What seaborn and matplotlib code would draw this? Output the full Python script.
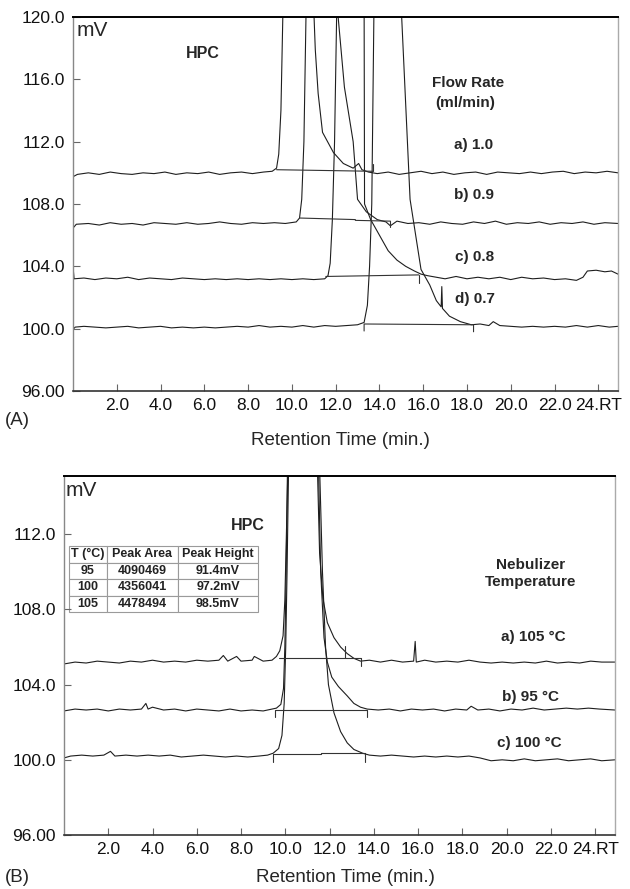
import matplotlib
matplotlib.use("Agg")
import matplotlib.pyplot as plt
import seaborn as sns
import pandas as pd

# ---------------- data ----------------
x_ticks = [2, 4, 6, 8, 10, 12, 14, 16, 18, 20, 22, 24]
x_tick_labels = ["2.0", "4.0", "6.0", "8.0", "10.0", "12.0", "14.0", "16.0",
                 "18.0", "20.0", "22.0", "24.RT"]
yA_ticks = [96, 100, 104, 108, 112, 116, 120]
yA_labels = ["96.00", "100.0", "104.0", "108.0", "112.0", "116.0", "120.0"]
yB_ticks = [96, 100, 104, 108, 112]
yB_labels = ["96.00", "100.0", "104.0", "108.0", "112.0"]

# Panel A : flow rate traces (time min, mV)
flow_a = [(0.0, 109.75), (0.2, 109.9), (0.7, 110.0), (1.2, 109.9), (1.7, 110.05), (2.2, 109.95),
          (2.7, 109.9), (3.2, 110.0), (3.7, 109.95), (4.2, 110.05), (4.7, 109.9), (5.2, 110.0),
          (5.7, 109.95), (6.2, 110.05), (6.7, 109.9), (7.2, 110.0), (7.7, 110.05), (8.2, 109.95),
          (8.7, 110.05), (9.1, 110.1),
          (9.3, 110.3), (9.4, 111.2), (9.5, 114.0), (9.6, 121.0), (10.3, 140.0), (11.0, 120.5),
          (11.07, 117.9), (11.2, 115.1), (11.4, 112.6), (11.9, 111.3), (12.35, 110.6), (12.8, 110.3),
          (13.05, 110.6), (13.2, 110.2), (13.5, 110.05),
          (13.9, 109.95), (14.4, 110.05), (14.9, 109.9), (15.4, 110.0), (15.9, 110.1), (16.4, 109.95),
          (16.9, 110.05), (17.4, 109.9), (17.9, 110.0), (18.4, 110.05), (18.9, 109.9), (19.4, 110.05),
          (19.9, 110.0), (20.4, 109.95), (20.9, 110.05), (21.4, 109.95), (21.9, 110.05), (22.4, 110.1),
          (22.9, 109.95), (23.4, 110.05), (23.9, 110.0), (24.4, 110.1), (24.9, 110.0)]
flow_b = [(0.0, 106.45), (0.15, 106.7), (0.7, 106.75), (1.2, 106.65), (1.7, 106.8), (2.2, 106.7),
          (2.7, 106.75), (3.2, 106.65), (3.7, 106.8), (4.2, 106.75), (4.7, 106.7), (5.2, 106.8),
          (5.7, 106.7), (6.2, 106.75), (6.7, 106.85), (7.2, 106.75), (7.7, 106.7), (8.2, 106.8),
          (8.7, 106.75), (9.2, 106.8), (9.7, 106.75), (10.2, 106.85),
          (10.35, 107.1), (10.45, 108.3), (10.55, 112.0), (10.65, 120.5), (11.3, 140.0),
          (12.05, 121.0), (12.4, 115.5), (12.8, 112.0), (13.0, 108.3), (13.4, 107.5),
          (13.9, 107.0), (14.3, 106.85),
          (14.5, 106.6), (14.8, 106.9), (15.3, 106.75), (15.8, 106.8), (16.3, 106.7), (16.8, 106.85),
          (17.3, 106.75), (17.8, 106.7), (18.3, 106.85), (18.8, 106.75), (19.3, 106.9), (19.8, 106.7),
          (20.3, 106.8), (20.8, 106.75), (21.3, 106.85), (21.8, 106.7), (22.3, 106.8), (22.8, 106.75),
          (23.3, 106.85), (23.8, 106.7), (24.3, 106.8), (24.9, 106.75)]
flow_c = [(0.0, 104.0), (0.05, 103.2), (0.5, 103.25), (1.0, 103.15), (1.5, 103.25), (2.0, 103.2),
          (2.5, 103.3), (3.0, 103.15), (3.5, 103.25), (4.0, 103.2), (4.5, 103.15), (5.0, 103.25),
          (5.5, 103.2), (6.0, 103.15), (6.5, 103.2), (7.0, 103.15), (7.5, 103.2), (8.0, 103.15),
          (8.5, 103.2), (9.0, 103.15), (9.5, 103.2), (10.0, 103.15), (10.5, 103.2), (11.0, 103.15),
          (11.5, 103.2),
          (11.65, 103.4), (11.75, 104.2), (11.85, 107.0), (11.95, 112.0), (12.05, 120.5),
          (12.7, 140.0), (13.3, 121.0), (13.32, 108.0), (13.6, 107.0), (14.0, 106.0), (14.4, 105.0),
          (14.8, 104.4), (15.2, 104.0), (15.6, 103.7), (15.9, 103.5), (16.2, 103.4),
          (16.6, 103.3), (17.0, 103.2), (17.5, 103.35), (18.0, 103.2), (18.5, 103.3), (19.0, 103.2),
          (19.5, 103.3), (20.0, 103.15), (20.5, 103.3), (21.0, 103.2), (21.5, 103.25), (22.0, 103.15),
          (22.5, 103.2), (23.0, 103.1), (23.3, 103.3), (23.5, 103.7), (23.9, 103.75), (24.3, 103.65),
          (24.6, 103.7), (24.9, 103.5)]
flow_d = [(0.0, 99.95), (0.1, 100.1), (0.5, 100.15), (1.0, 100.1), (1.5, 100.05), (2.0, 100.1),
          (2.5, 100.15), (3.0, 100.05), (3.5, 100.1), (4.0, 100.15), (4.5, 100.05), (5.0, 100.1),
          (5.5, 100.05), (6.0, 100.1), (6.5, 100.05), (7.0, 100.1), (7.5, 100.15), (8.0, 100.1),
          (8.5, 100.2), (9.0, 100.1), (9.5, 100.15), (10.0, 100.1), (10.5, 100.2), (11.0, 100.1),
          (11.5, 100.2), (12.0, 100.15), (12.5, 100.2), (13.0, 100.25),
          (13.3, 100.4), (13.45, 101.5), (13.55, 104.0), (13.65, 108.0), (13.75, 120.5),
          (14.4, 140.0), (15.0, 120.5), (15.4, 108.3), (15.9, 103.8), (16.3, 102.8), (16.6, 101.8),
          (16.82, 101.4), (16.85, 102.7), (16.88, 101.3), (17.2, 100.8), (17.7, 100.45), (18.2, 100.25),
          (18.6, 100.3), (19.0, 100.2), (19.2, 100.45), (19.5, 100.2), (20.0, 100.15), (20.5, 100.1),
          (21.0, 100.15), (21.5, 100.1), (22.0, 100.15), (22.5, 100.1), (23.0, 100.2), (23.5, 100.1),
          (24.0, 100.2), (24.5, 100.1), (24.9, 100.15)]
# integration baselines / markers, panel A
flow_marks = [
    [(9.3, 110.2), (13.7, 110.1)], [(13.7, 110.1), (13.7, 110.55)],
    [(10.35, 107.1), (12.9, 107.0), (12.9, 106.95), (14.5, 106.9)], [(14.5, 106.9), (14.5, 106.5)],
    [(11.55, 103.35), (15.8, 103.45)], [(15.8, 103.45), (15.8, 102.9)],
    [(13.3, 99.85), (13.3, 100.3), (18.3, 100.25), (18.3, 99.8)],
]

# Panel B : nebulizer temperature traces
temp_105 = [(0.0, 105.1), (0.5, 105.2), (1.0, 105.15), (1.5, 105.25), (2.0, 105.2), (2.5, 105.15),
            (3.0, 105.25), (3.5, 105.2), (4.0, 105.3), (4.5, 105.2), (5.0, 105.25), (5.5, 105.2),
            (6.0, 105.3), (6.5, 105.25), (7.0, 105.3), (7.2, 105.55), (7.4, 105.25), (7.8, 105.5),
            (8.0, 105.25), (8.5, 105.3), (8.6, 105.5), (9.0, 105.25), (9.4, 105.3),
            (9.6, 105.5), (9.75, 105.8), (9.9, 106.6), (9.98, 108.5), (10.05, 112.0), (10.12, 115.6),
            (10.8, 130.0), (11.45, 115.6), (11.55, 111.0), (11.7, 108.6), (11.9, 107.3), (12.2, 106.5),
            (12.5, 106.0), (12.8, 105.65), (13.1, 105.4), (13.4, 105.25),
            (13.8, 105.3), (14.3, 105.2), (14.8, 105.3), (15.3, 105.2), (15.8, 105.25), (15.87, 106.3),
            (15.92, 105.2), (16.3, 105.3), (16.8, 105.2), (17.3, 105.25), (17.8, 105.2), (18.3, 105.3),
            (18.8, 105.2), (19.3, 105.15), (19.8, 105.2), (20.3, 105.15), (20.8, 105.2), (21.3, 105.15),
            (21.8, 105.25), (22.3, 105.15), (22.8, 105.2), (23.3, 105.15), (23.8, 105.25), (24.3, 105.2),
            (24.9, 105.2)]
temp_95 = [(0.0, 102.6), (0.5, 102.7), (1.0, 102.65), (1.5, 102.7), (2.0, 102.6), (2.5, 102.7),
           (3.0, 102.65), (3.5, 102.7), (3.7, 103.0), (3.8, 102.7), (4.0, 102.8), (4.5, 102.65),
           (5.0, 102.7), (5.5, 102.6), (6.0, 102.7), (6.5, 102.65), (7.0, 102.6), (7.5, 102.7),
           (8.0, 102.6), (8.5, 102.65), (9.0, 102.6), (9.4, 102.7),
           (9.6, 102.75), (9.8, 102.95), (9.92, 103.8), (9.98, 106.0), (10.04, 110.0), (10.1, 115.6),
           (10.8, 130.0), (11.5, 115.6), (11.6, 110.0), (11.75, 106.5), (11.9, 105.2), (12.1, 104.4),
           (12.4, 103.9), (12.8, 103.4), (13.1, 103.0), (13.4, 102.8), (13.7, 102.7),
           (14.2, 102.65), (14.7, 102.7), (15.2, 102.6), (15.7, 102.7), (16.2, 102.65), (16.7, 102.7),
           (17.2, 102.6), (17.7, 102.7), (18.2, 102.65), (18.4, 102.85), (18.7, 102.65), (19.2, 102.7),
           (19.7, 102.6), (20.2, 102.7), (20.7, 102.65), (21.2, 102.75), (21.7, 102.65), (22.2, 102.7),
           (22.7, 102.75), (23.2, 102.7), (23.7, 102.75), (24.2, 102.7), (24.9, 102.65)]
temp_100 = [(0.0, 100.1), (0.3, 100.2), (0.8, 100.25), (1.3, 100.2), (1.8, 100.25), (2.1, 100.45),
            (2.3, 100.2), (2.8, 100.25), (3.3, 100.2), (3.8, 100.25), (4.3, 100.2), (4.8, 100.25),
            (5.3, 100.15), (5.8, 100.2), (6.3, 100.25), (6.8, 100.2), (7.3, 100.15), (7.8, 100.2),
            (8.3, 100.15), (8.8, 100.2), (9.2, 100.25),
            (9.45, 100.35), (9.7, 100.6), (9.85, 101.3), (9.95, 103.0), (10.02, 106.0), (10.08, 110.0),
            (10.15, 115.6), (10.85, 130.0), (11.55, 115.6), (11.68, 110.0), (11.82, 106.0),
            (11.95, 104.0), (12.2, 102.5), (12.5, 101.5), (12.8, 100.9), (13.1, 100.55), (13.5, 100.35),
            (13.8, 100.25),
            (14.3, 100.2), (14.8, 100.25), (15.3, 100.2), (15.8, 100.15), (16.3, 100.2), (16.8, 100.15),
            (17.3, 100.2), (17.8, 100.15), (18.3, 100.2), (18.8, 100.1), (19.3, 99.95), (19.8, 100.0),
            (20.3, 99.95), (20.8, 100.05), (21.3, 99.95), (21.8, 100.0), (22.3, 100.05), (22.8, 99.95),
            (23.3, 100.0), (23.8, 100.05), (24.3, 99.95), (24.9, 100.0)]
temp_marks = [
    [(9.7, 105.4), (13.4, 105.4)], [(12.7, 105.4), (12.7, 106.05)], [(13.4, 105.4), (13.4, 105.0)],
    [(9.55, 102.3), (9.55, 102.65), (13.7, 102.65), (13.7, 102.3)],
    [(9.45, 99.9), (9.45, 100.3), (11.6, 100.3), (11.6, 100.35), (13.6, 100.35), (13.6, 99.9)],
]

table_cols = ["T (\u00b0C)", "Peak Area", "Peak Height"]
table_rows = [["95", "4090469", "91.4mV"],
              ["100", "4356041", "97.2mV"],
              ["105", "4478494", "98.5mV"]]

# ---------------- drawing ----------------
sns.set_style("ticks")
plt.rcParams['font.family'] = ['Liberation Sans', 'DejaVu Sans']

W, H = 630, 889
fig = plt.figure(figsize=(W / 100, H / 100), dpi=100)


def px_axes(l, t, r, b):
    return fig.add_axes([l / W, 1 - b / H, (r - l) / W, (b - t) / H])


def draw(ax, pts, lw=0.8, color='#1e1e1e'):
    df = pd.DataFrame(pts, columns=['t', 'mv'])
    sns.lineplot(data=df, x='t', y='mv', ax=ax, color=color, linewidth=lw,
                 estimator=None, sort=False)


def ftext(x, y, s, **kw):
    kw.setdefault('ha', 'center')
    kw.setdefault('va', 'center')
    fig.text(x / W, 1 - y / H, s, **kw)


axA = px_axes(73, 17, 618, 391)
axB = px_axes(64, 476, 615, 835)

for tr in (flow_a, flow_b, flow_c, flow_d):
    draw(axA, tr)
for m in flow_marks:
    draw(axA, m, lw=0.8, color='#333333')
for tr in (temp_105, temp_95, temp_100):
    draw(axB, tr)
for m in temp_marks:
    draw(axB, m, lw=0.8, color='#333333')

for ax, ylim, yt, yl in ((axA, (96, 120), yA_ticks, yA_labels),
                         (axB, (96, 115.1), yB_ticks, yB_labels)):
    ax.set_xlim(0, 24.9)
    ax.set_ylim(*ylim)
    ax.set_xticks(x_ticks)
    ax.set_xticklabels(x_tick_labels)
    ax.set_yticks(yt)
    ax.set_yticklabels(yl)
    ax.set_xlabel('')
    ax.set_ylabel('')
    ax.tick_params(direction='in', length=5, width=0.8, color='#666666',
                   labelsize=12.5, labelcolor='#111111')
    ax.tick_params(axis='y', pad=6)
    ax.tick_params(axis='x', pad=5)
    ax.spines['top'].set_color('#000000')
    ax.spines['top'].set_linewidth(1.4)
    ax.spines['bottom'].set_color('#333333')
    ax.spines['bottom'].set_linewidth(1.2)
    ax.spines['left'].set_color('#888888')
    ax.spines['left'].set_linewidth(1.0)
    ax.spines['right'].set_color('#aaaaaa')
    ax.spines['right'].set_linewidth(1.0)
    for s in ax.spines.values():
        s.set_visible(True)

# table in panel B
tbl = axB.table(cellText=table_rows, colLabels=table_cols, cellLoc='center',
                colWidths=[0.201, 0.376, 0.423],
                bbox=[0.009, 0.621, 0.343, 0.184])
tbl.auto_set_font_size(False)
tbl.set_fontsize(9)
for (r, c), cell in tbl.get_celld().items():
    cell.set_edgecolor('#9a9a9a')
    cell.set_linewidth(0.8)
    cell.set_facecolor('white')
    cell.get_text().set_fontweight('bold')
    cell.get_text().set_color('#222222')

# annotations panel A
ftext(77, 30, "mV", fontsize=15, ha='left')
ftext(203, 54, "HPC", fontsize=11.5, fontweight='bold')
ftext(468, 83, "Flow Rate", fontsize=11, fontweight='bold')
ftext(465, 103, "(ml/min)", fontsize=11, fontweight='bold')
ftext(474, 145, "a) 1.0", fontsize=11, fontweight='bold')
ftext(474, 195, "b) 0.9", fontsize=11, fontweight='bold')
ftext(475, 257, "c) 0.8", fontsize=11, fontweight='bold')
ftext(475, 299, "d) 0.7", fontsize=11, fontweight='bold')
ftext(5, 420, "(A)", fontsize=13.5, ha='left')
ftext(340, 440, "Retention Time (min.)", fontsize=13.5)

# annotations panel B
ftext(66, 490, "mV", fontsize=15, ha='left')
ftext(248, 525, "HPC", fontsize=11.5, fontweight='bold')
ftext(531, 565, "Nebulizer", fontsize=11, fontweight='bold')
ftext(531, 582, "Temperature", fontsize=11, fontweight='bold')
ftext(533, 637, "a) 105 \u00b0C", fontsize=11, fontweight='bold')
ftext(530, 697, "b) 95 \u00b0C", fontsize=11, fontweight='bold')
ftext(529, 743, "c) 100 \u00b0C", fontsize=11, fontweight='bold')
ftext(5, 877, "(B)", fontsize=13.5, ha='left')
ftext(345, 877, "Retention Time (min.)", fontsize=13.5)

fig.savefig("out.png", dpi=100)
